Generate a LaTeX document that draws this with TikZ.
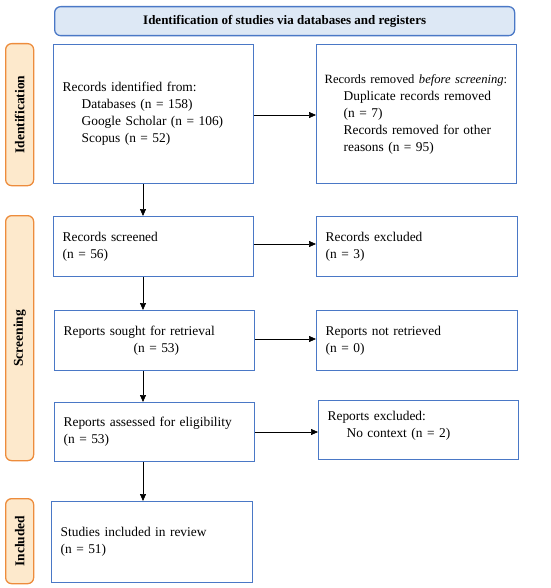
\documentclass[tikz,border=0pt]{standalone}
\usepackage{fontspec}
\setmainfont{Liberation Serif}
\usetikzlibrary{arrows.meta}
\definecolor{boxblue}{HTML}{4A78C6}
\definecolor{headfill}{HTML}{DDE8F5}
\definecolor{sideor}{HTML}{ED8C3C}
\definecolor{sidefill}{HTML}{FDE9CC}
\tikzset{
  box/.style={draw=boxblue, line width=1.3pt, rectangle, align=left, inner xsep=9pt, inner ysep=0pt,
    font=\fontsize{13.4}{17}\selectfont, anchor=north west},
  head/.style={draw=boxblue, fill=headfill, line width=1.3pt, rounded corners=6pt,
    font=\bfseries\fontsize{13}{15}\selectfont, anchor=north west, inner sep=0pt},
  side/.style={draw=sideor, fill=sidefill, line width=1.3pt, rounded corners=6pt,
    anchor=north west, inner sep=0pt},
  sidetext/.style={font=\bfseries\fontsize{13.5}{15}\selectfont, rotate=90},
  arr/.style={-{Triangle[length=7pt,width=6pt]}, line width=0.7pt, black}
}
\begin{document}
\begin{tikzpicture}[x=1pt,y=-1pt]
\useasboundingbox (0,0) rectangle (550,588);
% header
\node[head, minimum width=460pt, minimum height=29pt] (hd) at (54,6) {Identification of studies via databases and registers};
% side labels
\node[side, minimum width=28pt, minimum height=142pt] (s1) at (5,43) {};
\node[sidetext] (s1t) at (s1.center) {Identification};
\node[side, minimum width=28pt, minimum height=245pt] (s2) at (5,215) {};
\node[sidetext] (s2t) at (s2.center) {Screening};
\node[side, minimum width=28pt, minimum height=85pt] (s3) at (5,498) {};
\node[sidetext] (s3t) at (s3.center) {Included};
% boxes
\node[box, minimum width=200pt, minimum height=139pt, text width=182pt] (b1) at (53,44)
  {Records identified from:\\
   \hspace*{19pt}Databases (n = 158)\\
   \hspace*{19pt}Google Scholar (n = 106)\\
   \hspace*{19pt}Scopus (n = 52)};
\node[box, minimum width=200pt, minimum height=139pt, text width=184pt, inner xsep=8pt] (b2) at (316,44)
  {\mbox{\fontsize{12.6}{17}\selectfont Records removed \textit{before screening}:}\\
   \hspace*{19pt}Duplicate records removed\\
   \hspace*{19pt}(n = 7)\\
   \hspace*{19pt}Records removed for other\\
   \hspace*{19pt}reasons (n = 95)};
\node[box, minimum width=200pt, minimum height=60pt, text width=182pt] (b3) at (53,216)
  {Records screened\\(n = 56)};
\node[box, minimum width=201pt, minimum height=60pt, text width=183pt] (b4) at (316,216)
  {Records excluded\\(n = 3)};
\node[box, minimum width=200pt, minimum height=60pt, text width=182pt] (b5) at (54,310)
  {Reports sought for retrieval\\\hspace*{70pt}(n = 53)};
\node[box, minimum width=201pt, minimum height=60pt, text width=183pt] (b6) at (316,310)
  {Reports not retrieved\\(n = 0)};
\node[box, minimum width=200pt, minimum height=59pt, text width=182pt] (b7) at (54,402)
  {Reports assessed for eligibility\\(n = 53)};
\node[box, minimum width=200pt, minimum height=59pt, text width=182pt] (b8) at (318,400)
  {Reports excluded:\\\hspace*{19pt}No context (n = 2)\\[-5pt]\mbox{}};
\node[box, minimum width=201pt, minimum height=81pt, text width=183pt] (b9) at (51,501)
  {Studies included in review\\(n = 51)};
% arrows
\draw[arr] (b1.east |- 0,115) -- (b2.west |- 0,115);
\draw[arr] (b3.east |- 0,244) -- (b4.west |- 0,244);
\draw[arr] (b5.east |- 0,339) -- (b6.west |- 0,339);
\draw[arr] (b7.east |- 0,432) -- (b8.west |- 0,432);
\draw[arr] (143,0 |- b1.south) -- (143,0 |- b3.north);
\draw[arr] (143,0 |- b3.south) -- (143,0 |- b5.north);
\draw[arr] (143,0 |- b5.south) -- (143,0 |- b7.north);
\draw[arr] (143,0 |- b7.south) -- (143,0 |- b9.north);
\end{tikzpicture}
\end{document}
